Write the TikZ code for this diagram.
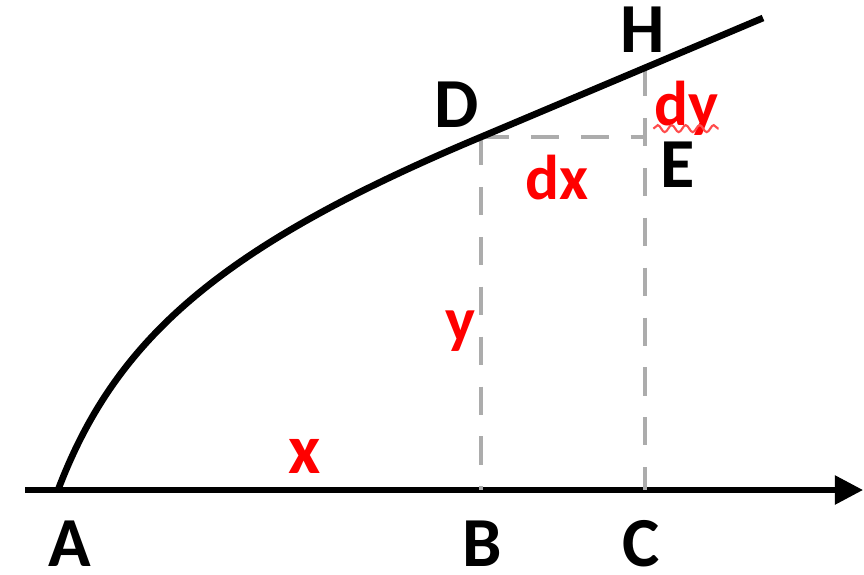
\documentclass[tikz,border=0pt]{standalone}
\usepackage{fontspec}
\setmainfont{Carlito}
\usepackage{tikz}
\usetikzlibrary{arrows.meta, decorations.pathmorphing}

\begin{document}
\begin{tikzpicture}[>=Stealth,
    pt/.style={font=\fontsize{20}{24}\selectfont\bfseries, inner sep=0pt},
    qty/.style={font=\fontsize{18}{21}\selectfont\bfseries, text=red, inner sep=0pt, anchor=base},
    guide/.style={draw=gray!65, line width=1.4pt, dash pattern=on 8pt off 6.2pt}]
  \useasboundingbox (0,0) rectangle (8.64,5.74);
  % points
  \coordinate (a) at (0.58,0.84);
  \coordinate (b) at (4.81,0.84);
  \coordinate (c) at (6.45,0.84);
  \coordinate (d) at (4.81,4.37);
  \coordinate (e) at (6.45,4.37);
  \coordinate (h) at (6.45,5.06);
  \coordinate (tail) at (0.25,0.84);
  \coordinate (tip) at (8.63,0.84);
  \coordinate (top) at (7.63,5.56);
  % axis
  \draw[line width=1.5pt, -{Triangle[length=8pt,width=8pt]}] (tail) -- (tip);
  % guides
  \draw[guide] (d) -- (b);
  \draw[guide] (h) -- (c);
  \draw[guide] (d) -- (e);
  % curve
  \draw[line width=1.9pt] (a) .. controls (1.15,2.34) and (2.18,3.27) .. (d) -- (top);
  % point labels
  \node[pt] (labA) at (0.70,0.30) {A};
  \node[pt] (labB) at (4.82,0.30) {B};
  \node[pt] (labC) at (6.41,0.30) {C};
  \node[pt] (labD) at (4.57,4.69) {D};
  \node[pt] (labH) at (6.43,5.44) {H};
  \node[pt] (labE) at (6.78,4.09) {E};
  % lengths
  \node[qty, font=\fontsize{20}{24}\selectfont\bfseries] (labx) at (3.05,1.01) {x};
  \node[qty] (laby) at (4.60,2.33) {y};
  \node[qty] (labdx) at (5.57,3.75) {dx};
  \node[qty] (labdy) at (6.86,4.49) {dy};
  \draw[red!70, line width=0.6pt, decorate,
        decoration={snake, amplitude=0.35mm, segment length=1.4mm}]
    ([yshift=2pt]labdy.south west) -- ([yshift=2pt]labdy.south east);
\end{tikzpicture}
\end{document}
